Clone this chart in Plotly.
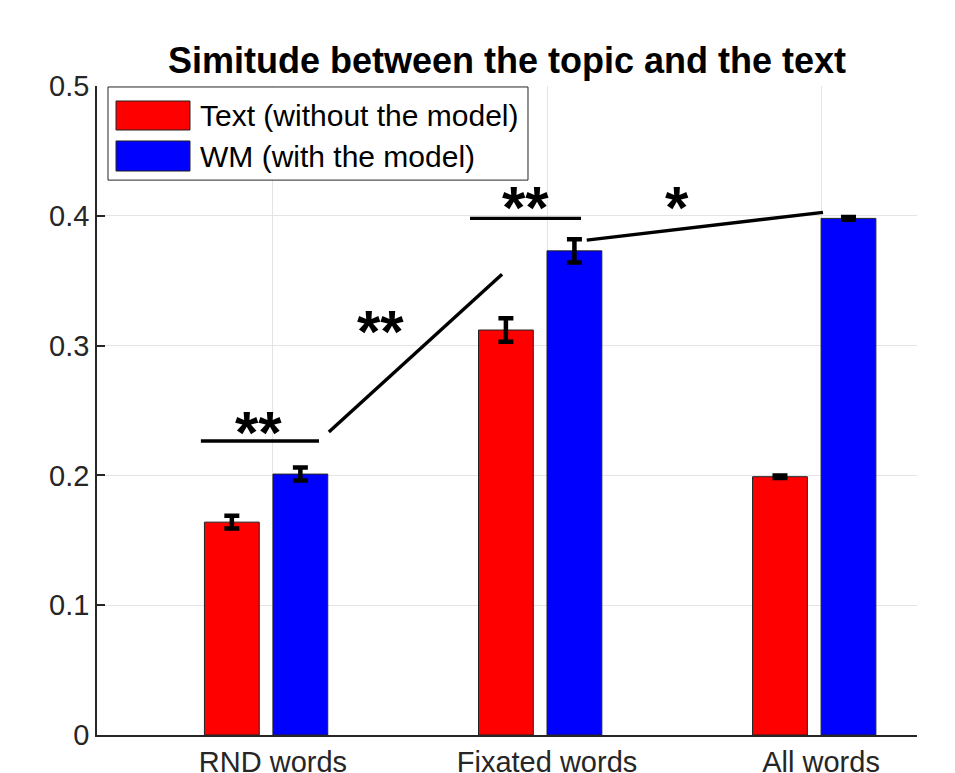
import plotly.graph_objects as go

categories = ["RND words", "Fixated words", "All words"]
text_vals = [0.164, 0.312, 0.199]
text_err = [0.005, 0.009, 0.001]
wm_vals = [0.201, 0.373, 0.398]
wm_err = [0.005, 0.009, 0.001]
series_names = ["Text (without the model)", "WM (with the model)"]
title_text = "Simitude between the topic and the text"
y_ticks = [0, 0.1, 0.2, 0.3, 0.4, 0.5]

# significance marks (x in category units, y in data units)
sig_lines = [
    ([0.737, 1.168], [0.2265, 0.2265]),
    ([1.204, 1.836], [0.2335, 0.355]),
    ([1.719, 2.124], [0.398, 0.398]),
    ([2.145, 3.007], [0.3813, 0.4026]),
]
sig_labels = [
    (0.949, 0.2328, "**"),
    (1.391, 0.3111, "**"),
    (1.920, 0.4063, "**"),
    (2.476, 0.4063, "*"),
]

FONT = "Liberation Sans, Arial, sans-serif"
TXT = "#262626"

xs = list(range(1, len(categories) + 1))

fig = go.Figure()
fig.add_trace(go.Bar(
    x=xs, y=text_vals, name=series_names[0], width=0.2, offset=-0.25,
    marker=dict(color="#ff0000", line=dict(color="#222222", width=1)),
    error_y=dict(type="data", array=text_err, color="black", thickness=4.5, width=7.5),
    showlegend=False,
))
fig.add_trace(go.Bar(
    x=xs, y=wm_vals, name=series_names[1], width=0.2, offset=0.0,
    marker=dict(color="#0000ff", line=dict(color="#222222", width=1)),
    error_y=dict(type="data", array=wm_err, color="black", thickness=4.5, width=7.5),
    showlegend=False,
))

for lx, ly in sig_lines:
    fig.add_trace(go.Scatter(x=lx, y=ly, mode="lines",
                             line=dict(color="black", width=3.4),
                             showlegend=False, hoverinfo="skip"))

for sx, sy, st in sig_labels:
    fig.add_annotation(x=sx, y=sy, text="<b>%s</b>" % st, showarrow=False,
                       font=dict(family=FONT, size=60, color="black"),
                       xanchor="center", yanchor="middle")

# manual MATLAB-style legend
shapes = [
    dict(type="rect", xref="paper", yref="paper", x0=0.0134, x1=0.5256, y0=0.855, y1=0.9985,
         line=dict(color="#262626", width=1), fillcolor="white", layer="above"),
    dict(type="rect", xref="paper", yref="paper", x0=0.0232, x1=0.1134, y0=0.9322, y1=0.9769,
         line=dict(color="#222222", width=1), fillcolor="#ff0000", layer="above"),
    dict(type="rect", xref="paper", yref="paper", x0=0.0232, x1=0.1134, y0=0.8690, y1=0.9153,
         line=dict(color="#222222", width=1), fillcolor="#0000ff", layer="above"),
]
for yy, name in zip([0.9545, 0.892], series_names):
    fig.add_annotation(xref="paper", yref="paper", x=0.1232, y=yy, text=name,
                       showarrow=False, xanchor="left", yanchor="middle",
                       font=dict(family=FONT, size=30, color="black"))

fig.update_layout(
    width=955, height=773,
    margin=dict(l=97, r=38, t=86, b=38, autoexpand=False),
    paper_bgcolor="white", plot_bgcolor="white",
    shapes=shapes,
    barmode="overlay",
    title=dict(text="<b>%s</b>" % title_text, x=0.5, xref="paper", xanchor="center",
               y=1 - 60 / 773, yanchor="middle",
               font=dict(family=FONT, size=36, color="black")),
    font=dict(family=FONT, size=29, color=TXT),
)
fig.update_xaxes(range=[0.358, 3.35], tickvals=xs, ticktext=categories,
                 automargin=False,
                 showgrid=True, gridcolor="#e4e4e4", gridwidth=1,
                 showline=True, linecolor=TXT, linewidth=1.5,
                 ticks="", zeroline=False,
                 tickfont=dict(family=FONT, size=29, color=TXT))
fig.update_yaxes(range=[0, 0.5], tickvals=y_ticks, ticktext=[str(v) for v in y_ticks],
                 automargin=False,
                 showgrid=True, gridcolor="#e4e4e4", gridwidth=1,
                 showline=True, linecolor=TXT, linewidth=1.5,
                 ticks="inside", ticklen=8, tickcolor=TXT, tickwidth=1.5,
                 zeroline=False,
                 tickfont=dict(family=FONT, size=29, color=TXT))

fig.write_html("out.html", config={"displayModeBar": False},
               post_script="document.body.style.margin='0px';document.body.style.overflow='hidden';")
